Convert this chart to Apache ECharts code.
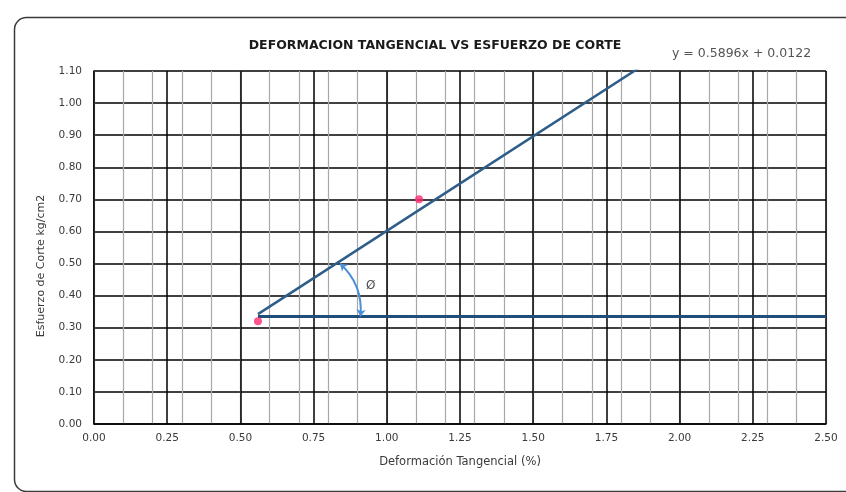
<!DOCTYPE html>
<html>
<head>
<meta charset="utf-8">
<script src="https://cdn.jsdelivr.net/npm/echarts@6/dist/echarts.min.js"></script>
<style>
  html, body { margin: 0; padding: 0; background: #fff; }
  #chart { width: 846px; height: 492px; }
</style>
</head>
<body>
<div id="chart"></div>
<script>
// Measured shear tests: tangential strain (%) vs shear stress (kg/cm2)
const strainPct = [0.56, 1.11];
const shearStress = [0.32, 0.70];

// Linear trend y = slope * x + intercept
const slope = 0.5896;
const intercept = 0.0122;
const trendX = [0.56, 2.5];

// Horizontal reference at the start of the trend line
const baseY = 0.335;
const baseX = [0.56, 2.5];

// Angle arc between the trend line and the horizontal reference
const arcFrom = [0.84, 0.50];
const arcTo = [0.91, 0.335];
const phiLabelPos = [0.945, 0.43];

// Axis ticks
const xTicks = ['0.00', '0.25', '0.50', '0.75', '1.00', '1.25', '1.50', '1.75', '2.00', '2.25', '2.50'];
const yTicks = ['0.00', '0.10', '0.20', '0.30', '0.40', '0.50', '0.60', '0.70', '0.80', '0.90', '1.00', '1.10'];

const font = '"DejaVu Sans", "Liberation Sans", sans-serif';
const textColor = '#3a3a3a';

const chart = echarts.init(document.getElementById('chart'), null, { renderer: 'canvas' });

const trendData = trendX.map(x => [x, slope * x + intercept]);
const baseData = baseX.map(x => [x, baseY]);

chart.setOption({
  animation: false,
  backgroundColor: '#fff',
  title: {
    text: 'DEFORMACION TANGENCIAL VS ESFUERZO DE CORTE',
    left: 430, top: 34, textAlign: 'center',
    textStyle: { fontFamily: font, fontSize: 12.5, fontWeight: 'bold', color: '#1a1a1a' }
  },
  graphic: [
    {
      type: 'rect', left: 12, top: 15, z: -1,
      shape: { width: 850, height: 474, r: 12 },
      style: { fill: 'none', stroke: '#3a3a3a', lineWidth: 1.5 }
    },
    {
      type: 'text', left: 672, top: 47,
      style: { text: 'y = 0.5896x + 0.0122', fontFamily: font, fontSize: 12.5, fill: '#555' }
    },
    {
      type: 'text', x: 41, y: 266, rotation: Math.PI / 2,
      style: {
        text: 'Esfuerzo de Corte kg/cm2', fontFamily: font, fontSize: 11,
        fill: textColor, align: 'center', verticalAlign: 'middle'
      }
    }
  ],
  grid: { left: 94, right: 20, top: 71, bottom: 68 },
  xAxis: [
    {
      type: 'value', min: 0, max: 2.5, interval: 0.25,
      name: 'Deformación Tangencial (%)', nameLocation: 'middle', nameGap: 32,
      nameTextStyle: { fontFamily: font, fontSize: 11.5, color: textColor },
      axisLine: { show: true, lineStyle: { color: '#000', width: 1.5 } },
      axisTick: { show: false },
      axisLabel: {
        fontFamily: font, fontSize: 10.5, color: textColor, margin: 9,
        formatter: v => xTicks[Math.round(v / 0.25)]
      },
      splitLine: { show: true, lineStyle: { color: '#000', width: 1.5 } },
      z: 3
    },
    {
      type: 'value', min: 0, max: 2.5, interval: 0.1, show: true,
      axisLine: { show: false }, axisTick: { show: false }, axisLabel: { show: false },
      splitLine: { show: true, lineStyle: { color: '#a8a8a8', width: 1.2 } },
      z: 1
    }
  ],
  yAxis: {
    type: 'value', min: 0, max: 1.1, interval: 0.1,
    axisLine: { show: true, lineStyle: { color: '#000', width: 1.5 } },
    axisTick: { show: false },
    axisLabel: {
      fontFamily: font, fontSize: 10.5, color: textColor, margin: 12,
      formatter: v => yTicks[Math.round(v / 0.1)]
    },
    splitLine: { show: true, lineStyle: { color: '#000', width: 1.5 } }
  },
  series: [
    {
      type: 'line', xAxisIndex: 0, data: trendData, showSymbol: false,
      lineStyle: { color: '#2f5d8a', width: 2.5 }, z: 5, clip: true
    },
    {
      type: 'line', xAxisIndex: 0, data: baseData, showSymbol: false,
      lineStyle: { color: '#1f4e79', width: 3 }, z: 5
    },
    {
      type: 'scatter', xAxisIndex: 0,
      data: strainPct.map((x, i) => [x, shearStress[i]]),
      symbolSize: 8, itemStyle: { color: '#ff2a6d' }, z: 6
    },
    {
      type: 'lines', coordinateSystem: 'cartesian2d', xAxisIndex: 0, z: 6,
      symbol: ['arrow', 'arrow'], symbolSize: 7,
      lineStyle: { color: '#4a8fd6', width: 2, curveness: 0.25, opacity: 1 },
      data: [{ coords: [arcFrom, arcTo] }]
    },
    {
      type: 'scatter', xAxisIndex: 0, symbolSize: 0, z: 6,
      data: [phiLabelPos],
      label: {
        show: true, position: 'inside', formatter: 'Ø',
        fontFamily: font, fontSize: 12, color: '#222'
      }
    }
  ]
});
</script>
</body>
</html>
